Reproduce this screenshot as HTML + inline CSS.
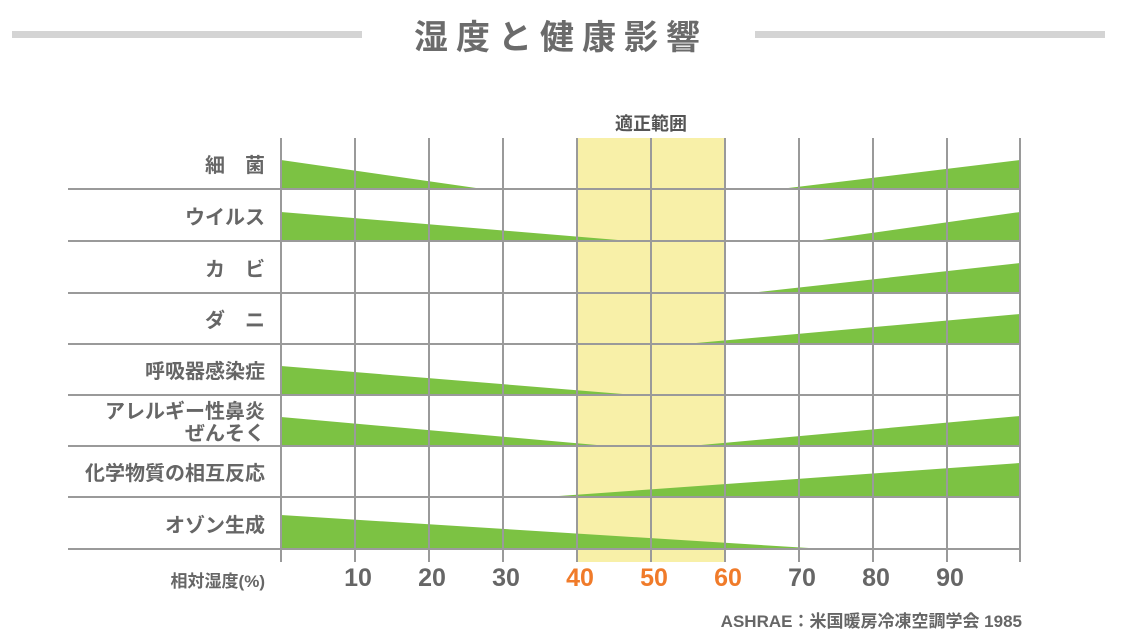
<!DOCTYPE html>
<html><head><meta charset="utf-8"><style>
body{margin:0;background:#fff;}
svg{display:block;font-family:"Liberation Sans","Noto Sans CJK JP",sans-serif;}
</style></head><body>
<svg width="1121" height="641" viewBox="0 0 1121 641">
<rect x="12" y="31" width="350" height="7" fill="#d4d4d4"/>
<rect x="755" y="31" width="350" height="7" fill="#d4d4d4"/>
<text x="561" y="49" text-anchor="middle" font-size="34" font-weight="bold" fill="#6b6b6b" letter-spacing="8">湿度と健康影響</text>
<rect x="577" y="138" width="148" height="424" fill="#f8f0a8"/>
<text x="651" y="130" text-anchor="middle" font-size="18" font-weight="bold" fill="#555">適正範囲</text>
<g fill="#7cc243">
<polygon points="281,160 281,189 483,189"/>
<polygon points="780,189 1020,160 1020,189"/>
<polygon points="281,212 281,241 630,241"/>
<polygon points="815,241 1020,212 1020,241"/>
<polygon points="750,293 1020,263 1020,293"/>
<polygon points="685,344 1020,314 1020,344"/>
<polygon points="281,366 281,395 635,395"/>
<polygon points="281,417 281,446 608,446"/>
<polygon points="690,446 1020,416 1020,446"/>
<polygon points="545,497 1020,463 1020,497"/>
<polygon points="281,515 281,549 825,549"/>
</g>
<g stroke="#9a9a9a" stroke-width="2">
<line x1="68" y1="189" x2="1021" y2="189"/>
<line x1="68" y1="241" x2="1021" y2="241"/>
<line x1="68" y1="293" x2="1021" y2="293"/>
<line x1="68" y1="344" x2="1021" y2="344"/>
<line x1="68" y1="395" x2="1021" y2="395"/>
<line x1="68" y1="446" x2="1021" y2="446"/>
<line x1="68" y1="497" x2="1021" y2="497"/>
<line x1="68" y1="549" x2="1021" y2="549"/>
<line x1="281" y1="138" x2="281" y2="562"/>
<line x1="355" y1="138" x2="355" y2="562"/>
<line x1="429" y1="138" x2="429" y2="562"/>
<line x1="503" y1="138" x2="503" y2="562"/>
<line x1="577" y1="138" x2="577" y2="562"/>
<line x1="651" y1="138" x2="651" y2="562"/>
<line x1="725" y1="138" x2="725" y2="562"/>
<line x1="799" y1="138" x2="799" y2="562"/>
<line x1="873" y1="138" x2="873" y2="562"/>
<line x1="947" y1="138" x2="947" y2="562"/>
<line x1="1020" y1="138" x2="1020" y2="562"/>
</g>
<g font-size="20" font-weight="bold" fill="#666" text-anchor="end">
<text x="265" y="172">細　菌</text>
<text x="265" y="224">ウイルス</text>
<text x="265" y="276">カ　ビ</text>
<text x="265" y="327">ダ　ニ</text>
<text x="265" y="378">呼吸器感染症</text>
<text x="265" y="418">アレルギー性鼻炎</text>
<text x="265" y="440">ぜんそく</text>
<text x="265" y="480">化学物質の相互反応</text>
<text x="265" y="532">オゾン生成</text>
</g>
<text x="265" y="587" text-anchor="end" font-size="17" font-weight="bold" fill="#666">相対湿度(%)</text>
<g font-size="25" font-weight="bold" text-anchor="middle" fill="#666">
<text x="358" y="586">10</text><text x="432" y="586">20</text><text x="506" y="586">30</text>
<text x="580" y="586" fill="#f07b2a">40</text><text x="654" y="586" fill="#f07b2a">50</text><text x="728" y="586" fill="#f07b2a">60</text>
<text x="802" y="586">70</text><text x="876" y="586">80</text><text x="950" y="586">90</text>
</g>
<text x="1022" y="627" text-anchor="end" font-size="17" font-weight="bold" fill="#666">ASHRAE：米国暖房冷凍空調学会 1985</text>
</svg>
</body></html>
